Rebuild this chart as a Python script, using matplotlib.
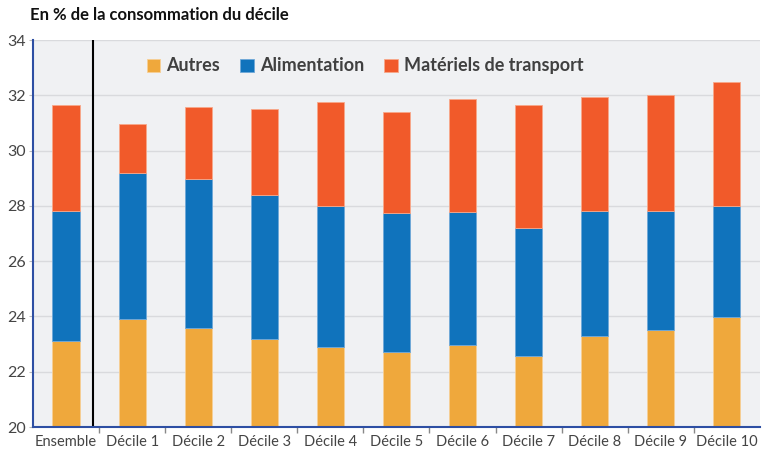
import matplotlib.pyplot as plt
import numpy as np

plt.rcParams['font.family'] = ['Lato', 'DejaVu Sans']

categories = ["Ensemble", "Décile 1", "Décile 2", "Décile 3", "Décile 4", "Décile 5",
              "Décile 6", "Décile 7", "Décile 8", "Décile 9", "Décile 10"]
autres = [23.11, 23.89, 23.58, 23.17, 22.90, 22.71, 22.97, 22.57, 23.28, 23.52, 23.98]
alim_top = [27.81, 29.18, 28.96, 28.40, 28.00, 27.73, 27.77, 27.20, 27.80, 27.80, 28.00]
total = [31.66, 30.95, 31.59, 31.50, 31.75, 31.40, 31.87, 31.64, 31.94, 32.00, 32.48]

alimentation = [t - a for t, a in zip(alim_top, autres)]
transport = [t - a for t, a in zip(total, alim_top)]

c_autres = "#EFA83C"
c_alim = "#1073BC"
c_trans = "#F15A2A"

fig = plt.figure(figsize=(7.63, 4.55), dpi=100)
ax = fig.add_axes([0.0432, 0.0615, 0.9528, 0.8505])
ax.set_facecolor("#F0F1F3")

x = np.arange(len(categories))
w = 0.41
base = 20
ax.bar(x, [a - base for a in autres], w, bottom=base, color=c_autres, label="Autres",
       edgecolor="#F7CF95", linewidth=0.6)
ax.bar(x, alimentation, w, bottom=autres, color=c_alim, label="Alimentation",
       edgecolor="#6FA8D8", linewidth=0.6)
ax.bar(x, transport, w, bottom=alim_top, color=c_trans, label="Matériels de transport",
       edgecolor="#F8A88A", linewidth=0.6)

ax.set_ylim(20, 34)
ax.set_xlim(-0.5, len(categories) - 0.5)
ax.set_yticks(range(20, 35, 2))
ax.yaxis.grid(True, color="#D9DADD", linewidth=1)
ax.set_axisbelow(True)

# separator between Ensemble and deciles
ax.axvline(0.41, color="black", linewidth=1.5)

ax.set_xticks(x)
ax.set_xticklabels(categories)
ax.set_xticks(np.arange(0.5, len(categories) - 0.5, 1), minor=True)
ax.tick_params(axis="x", which="major", length=0, labelsize=10.5, colors="#444444", pad=6)
ax.tick_params(axis="x", which="minor", length=4, color="#888888", width=1)
ax.tick_params(axis="y", length=3, color="#BBBBBB", labelsize=11.5, labelcolor="#444444", pad=2)

for s in ["top", "right"]:
    ax.spines[s].set_visible(False)
ax.spines["left"].set_color("#2E4FA3")
ax.spines["left"].set_linewidth(1.5)
ax.spines["bottom"].set_color("#2E4FA3")
ax.spines["bottom"].set_linewidth(1.5)

leg = ax.legend(loc="center", bbox_to_anchor=(0.457, 0.933), ncol=3, frameon=False,
                handlelength=0.75, handleheight=0.75, handletextpad=0.35, columnspacing=1.1,
                prop=dict(size=13, weight="bold"))
for t in leg.get_texts():
    t.set_color("#404040")

fig.text(0.039, 0.985, "En % de la consommation du décile", ha="left", va="top",
         fontsize=12, fontweight="bold", color="#111111")

fig.savefig("out.png", dpi=100)
